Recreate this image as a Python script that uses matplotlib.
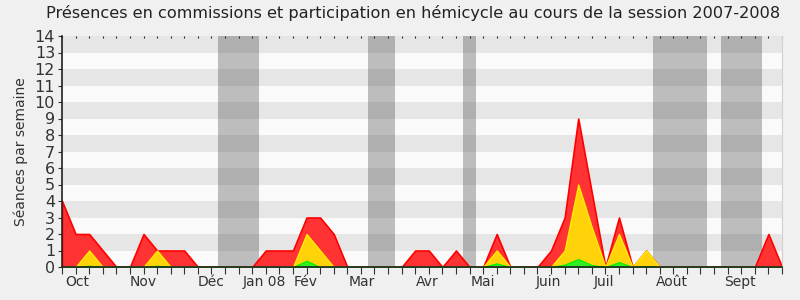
"""Présences en commissions / hémicycle, session 2007-2008 — weekly stacked areas."""
import matplotlib
matplotlib.use("Agg")
import matplotlib.pyplot as plt
from matplotlib.transforms import blended_transform_factory

plt.rcParams.update({"font.family": "DejaVu Sans", "figure.dpi": 100})

# one value per week, week 0 = first week of October 2007
weeks = list(range(54))
total = [4, 2, 2, 1, 0, 0, 2, 1, 1, 1, 0, 0, 0, 0, 0, 1, 1, 1, 3, 3,
         2, 0, 0, 0, 0, 0, 1, 1, 0, 1, 0, 0, 2, 0, 0, 0, 1, 3, 9, 4.5,
         0, 3, 0, 1, 0, 0, 0, 0, 0, 0, 0, 0, 2, 0]
commission = [0, 0, 1, 0, 0, 0, 0, 1, 0, 0, 0, 0, 0, 0, 0, 0, 0, 0, 2, 1,
              0, 0, 0, 0, 0, 0, 0, 0, 0, 0, 0, 0, 1, 0, 0, 0, 0, 1, 5, 2.4,
              0, 2, 0, 1, 0, 0, 0, 0, 0, 0, 0, 0, 0, 0]
hemicycle = [0, 0, 0.08, 0, 0, 0, 0, 0.08, 0, 0, 0, 0, 0, 0, 0, 0, 0, 0, 0.38, 0,
             0, 0, 0, 0, 0, 0, 0, 0, 0, 0, 0, 0, 0.22, 0, 0, 0, 0, 0.15, 0.48, 0.12,
             0, 0.3, 0, 0.05, 0, 0, 0, 0, 0, 0, 0, 0, 0, 0]

# parliamentary recess periods (week units)
vacances = [(11.5, 14.5), (22.5, 24.5), (29.5, 30.5), (43.5, 47.5), (48.5, 51.5)]

month_labels = ["Oct", "Nov", "Déc", "Jan 08", "Fév", "Mar", "Avr", "Mai",
                "Juin", "Juil", "Août", "Sept"]
month_pos = [1.1, 6.0, 11.0, 14.9, 17.9, 22.1, 26.9, 31.0, 35.8, 39.9, 44.9, 49.9]

YMAX = 14

fig = plt.figure(figsize=(8, 3), facecolor="#f0f0f0")
ax = fig.add_axes([62 / 800, 33 / 300, 720 / 800, 231 / 300])
ax.set_facecolor("#fafafa")

# alternating horizontal stripes
for i in range(1, YMAX, 2):
    ax.axhspan(i, i + 1, color="#e6e6e6", lw=0, zorder=0)
for a, b in vacances:
    ax.axvspan(a, b, color="#323232", alpha=0.3, lw=0, zorder=1)

ax.fill_between(weeks, total, 0, facecolor="#ff3333", edgecolor="#ff0000", lw=1.2, zorder=2)
ax.fill_between(weeks, commission, 0, facecolor="#ffd20a", edgecolor="#ffee00", lw=1.0, zorder=3)
ax.fill_between(weeks, hemicycle, 0, facecolor="#33ee22", edgecolor="#00ee00", lw=0.8, zorder=4)

ax.set_xlim(0, 53)
ax.set_ylim(0, YMAX)
ax.set_yticks(range(0, YMAX + 1))
ax.tick_params(axis="y", labelsize=11.5, colors="#333333", length=3, pad=2)
ax.set_ylabel("Séances par semaine", fontsize=10, color="#333333", labelpad=5)

ax.set_xticks(weeks)
ax.set_xticklabels([])
ax.tick_params(axis="x", length=5, color="#333333")

# month names under the week ticks
trans = blended_transform_factory(ax.transData, ax.transAxes)
for pos, lab in zip(month_pos, month_labels):
    ax.text(pos, -0.035, lab, transform=trans, ha="center", va="top",
            fontsize=10, color="#333333")

top = ax.secondary_xaxis("top")
top.set_xticks(weeks)
top.set_xticklabels([])
top.tick_params(direction="in", length=1.5, color="#222222")
top.spines["top"].set_visible(False)

ax.spines["top"].set_visible(False)
ax.spines["right"].set_color("#d0d0d0")
for side in ("left", "bottom"):
    ax.spines[side].set_color("#222222")
    ax.spines[side].set_linewidth(1.2)
    ax.spines[side].set_zorder(6)

fig.text(413 / 800, 1 - 13 / 300,
         "Présences en commissions et participation en hémicycle au cours de la session 2007-2008",
         ha="center", va="center", fontsize=11.6, color="#222222")

fig.savefig("out.png", facecolor=fig.get_facecolor())
